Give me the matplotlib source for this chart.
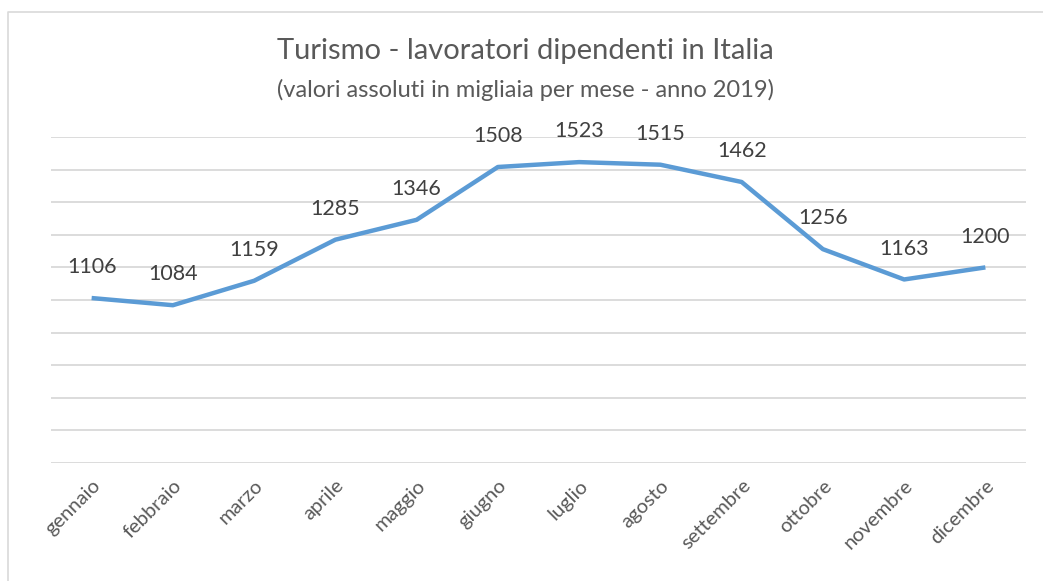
import matplotlib.pyplot as plt
from matplotlib.lines import Line2D

months = ['gennaio', 'febbraio', 'marzo', 'aprile', 'maggio', 'giugno',
          'luglio', 'agosto', 'settembre', 'ottobre', 'novembre', 'dicembre']
workers = [1106, 1084, 1159, 1285, 1346, 1508, 1523, 1515, 1462, 1256, 1163, 1200]

text_color = '#595959'
line_color = '#5B9BD5'
grid_color = '#D9D9D9'

plt.rcParams['font.family'] = ['Lato', 'DejaVu Sans']

fig = plt.figure(figsize=(10.43, 5.81), dpi=100)
ax = fig.add_axes([0.0489, 0.2031, 0.9348, 0.5611])

x = list(range(len(months)))
ax.plot(x, workers, color=line_color, linewidth=3.2, solid_capstyle='butt', zorder=3)

# data labels above each point
for xi, v in zip(x, workers):
    ax.annotate(str(v), (xi, v), xytext=(0, 15), textcoords='offset points',
                ha='center', va='bottom', fontsize=15.5, color='#404040', zorder=4)

ax.set_xlim(-0.5, len(months) - 0.5)
ax.set_ylim(600, 1600)
ax.set_yticks(range(600, 1601, 100))
ax.yaxis.grid(True, color=grid_color, linewidth=1.3)
ax.set_axisbelow(True)
ax.tick_params(axis='y', left=False, labelleft=False)
ax.tick_params(axis='x', length=0, pad=10)
ax.set_xticks(x)
ax.set_xticklabels(months, rotation=45, ha='right', rotation_mode='anchor',
                   fontsize=14.5, color=text_color)
for s in ax.spines.values():
    s.set_visible(False)

fig.text(0.5035, 0.912, 'Turismo - lavoratori dipendenti in Italia',
         ha='center', va='center', fontsize=21, color=text_color)
fig.text(0.5035, 0.846, '(valori assoluti in migliaia per mese - anno 2019)',
         ha='center', va='center', fontsize=17, color=text_color)

# chart border (top and left visible in the crop)
fig.add_artist(Line2D([8 / 1043, 8 / 1043, 1.0], [0, 1 - 12 / 581, 1 - 12 / 581],
                      transform=fig.transFigure, color=grid_color, linewidth=1.2))

plt.savefig('out.png', dpi=100)
